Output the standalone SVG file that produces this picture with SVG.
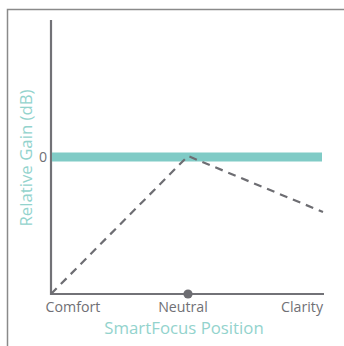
<svg xmlns="http://www.w3.org/2000/svg" width="344" height="346" viewBox="0 0 344 346">
<style>
.tick{font-family:"Open Sans","Noto Sans",sans-serif;font-size:14.2px;fill:#707075}
.title{font-family:"Open Sans","Noto Sans",sans-serif;fill:#93d3cd}
.axis{stroke:#727277;stroke-width:2.2;fill:none}
</style>
<rect x="0" y="0" width="344" height="346" fill="#ffffff"/>
<path d="M7.5,346 V9.5 H344" fill="none" stroke="#8a8a8a" stroke-width="1.5"/>
<g id="axes">
<path class="axis" d="M51,20 V294 H324"/>
</g>
<g id="reference">
<rect x="52" y="152.5" width="270" height="9" fill="#80cbc6"/>
<text class="tick" x="47" y="162" text-anchor="end">0</text>
</g>
<g id="connectors">
<path d="M51,294 L188,156 L323,212" fill="none" stroke="#6d6d72" stroke-width="2.2" stroke-dasharray="8,6"/>
</g>
<g id="neutral-dot">
<circle cx="188" cy="294" r="4.6" fill="#6d6d72"/>
</g>
<g id="labels">
<text class="tick" x="73" y="312" text-anchor="middle">Comfort</text>
<text class="tick" x="183" y="312" text-anchor="middle">Neutral</text>
<text class="tick" x="323" y="312" text-anchor="end">Clarity</text>
<text class="title" x="184" y="334" text-anchor="middle" font-size="16.8">SmartFocus Position</text>
<text class="title" x="0" y="0" text-anchor="middle" font-size="16.8" transform="translate(32,158) rotate(-90)">Relative Gain (dB)</text>
</g>
</svg>
